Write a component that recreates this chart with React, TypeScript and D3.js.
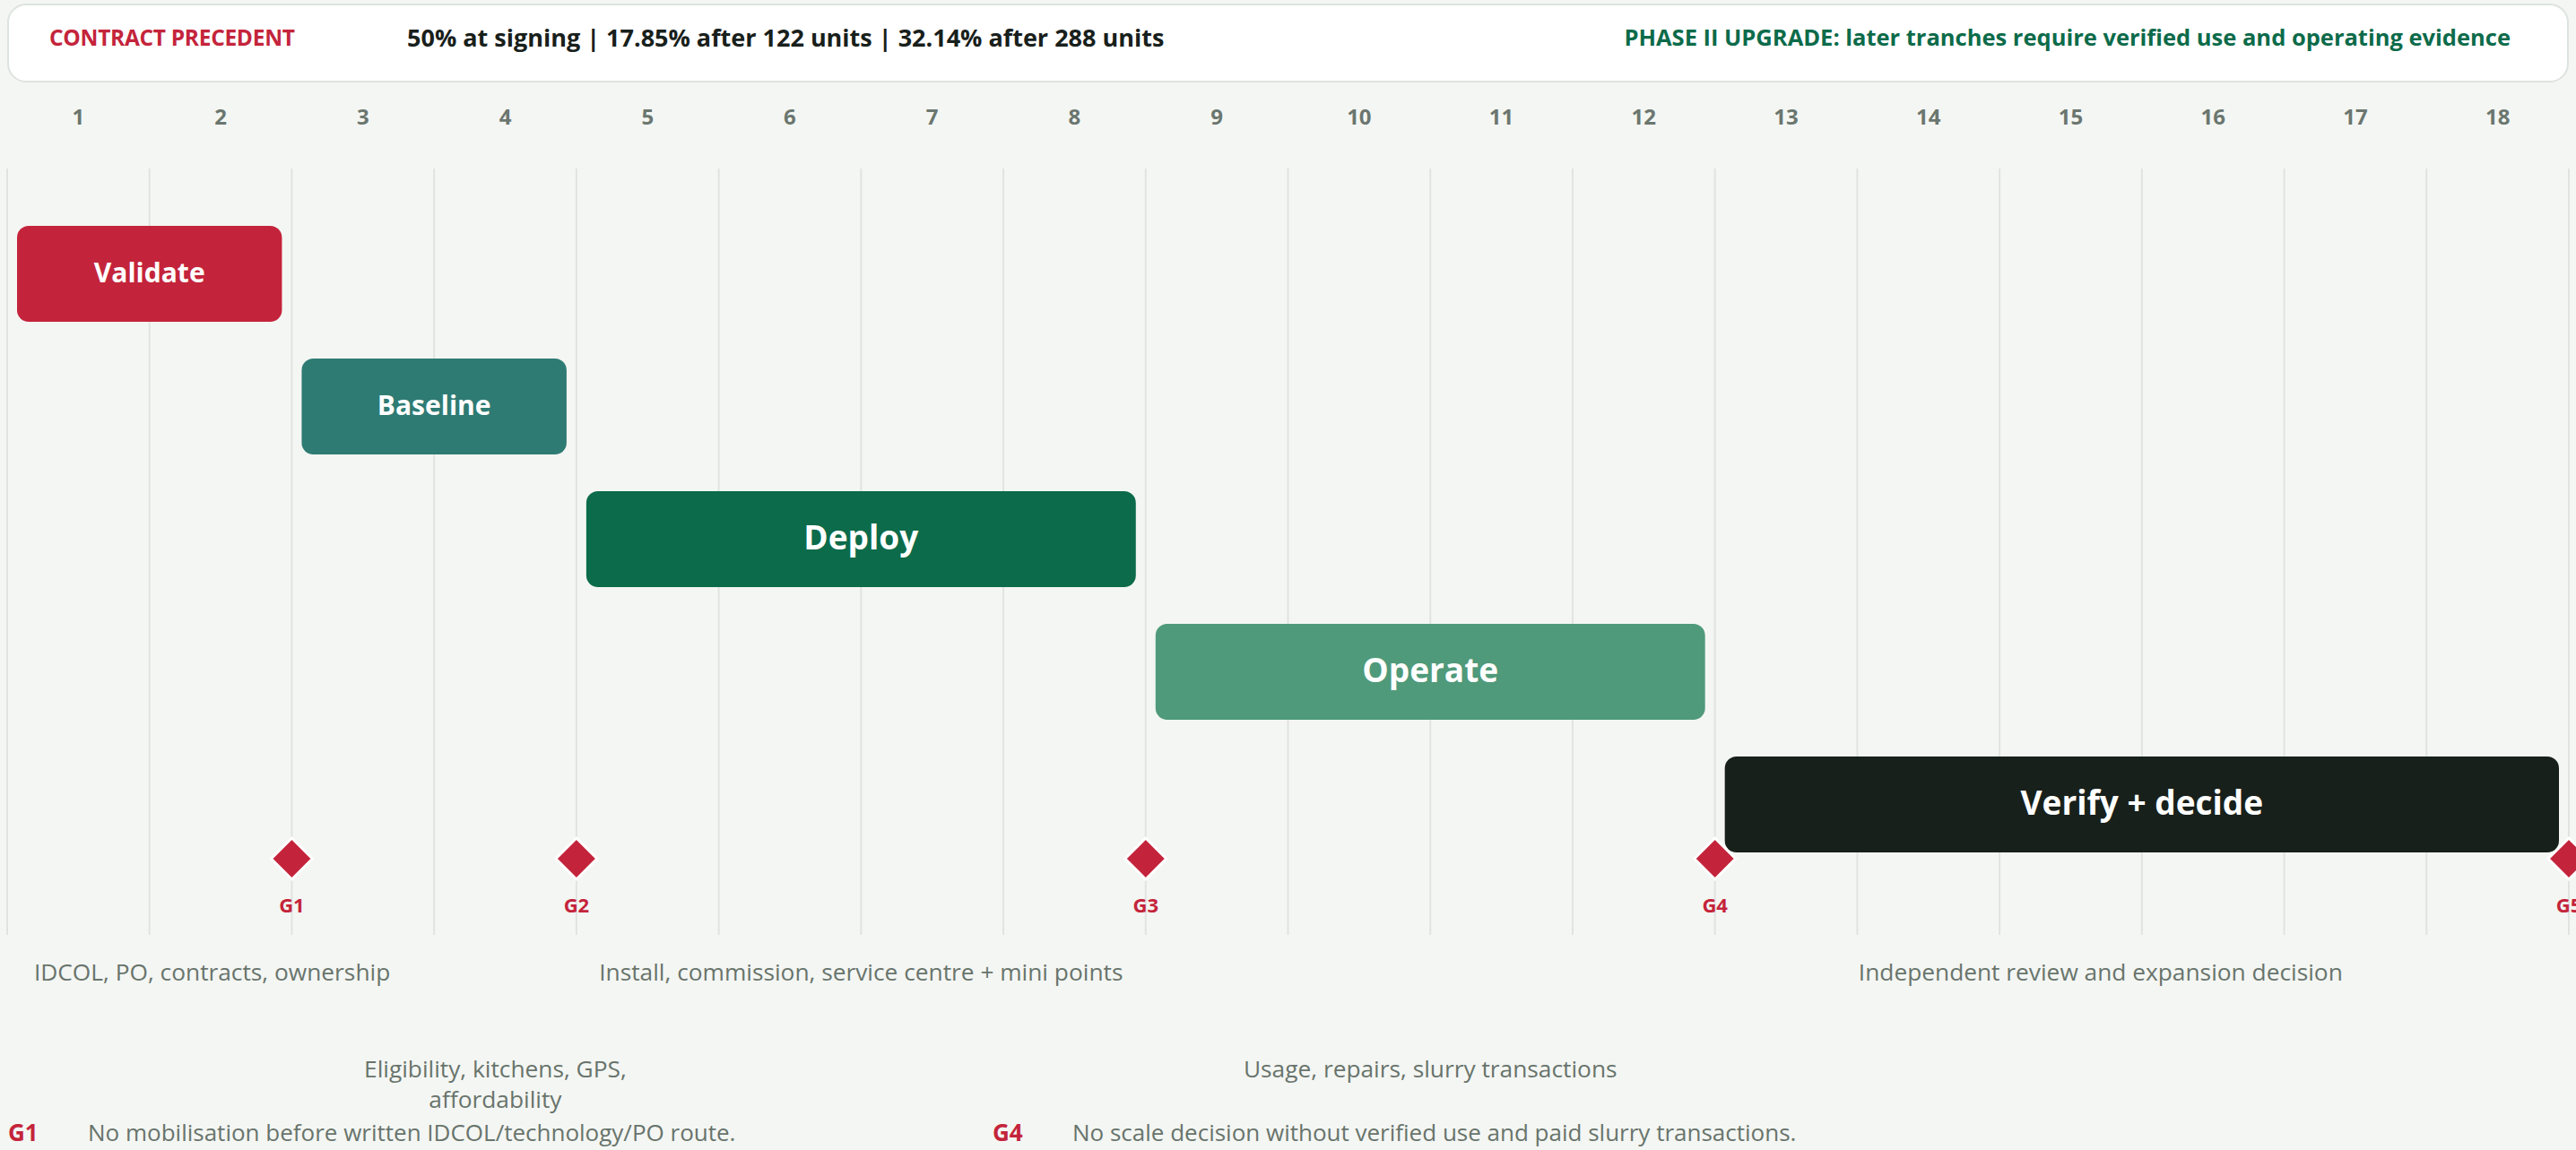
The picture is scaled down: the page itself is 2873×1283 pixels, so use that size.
import React, { useEffect, useRef } from 'react';
import * as d3 from 'd3';

const W = 2873;
const H = 1283;

// months on the top axis
const months = d3.range(1, 19);

// phases (start / end in months)
const phases = ['Validate', 'Baseline', 'Deploy', 'Operate', 'Verify + decide'];
const phaseStart = [0, 2, 4, 8, 12];
const phaseEnd = [2, 4, 8, 12, 18];
const phaseColors = ['#c4243b', '#2e7b74', '#0c6b4a', '#4f9a7a', '#18201b'];

// gates
const gates = ['G1', 'G2', 'G3', 'G4', 'G5'];
const gateMonth = [2, 4, 8, 12, 18];

// phase descriptions under the timeline
const descLines = [
  ['IDCOL, PO, contracts, ownership'],
  ['Eligibility, kitchens, GPS,', 'affordability'],
  ['Install, commission, service centre + mini points'],
  ['Usage, repairs, slurry transactions'],
  ['Independent review and expansion decision'],
];
const descRow = [0, 1, 0, 1, 0];
const descAt = [1.44, 3.43, 6, 10, 14.71];

// gate notes at the bottom
const noteGate = ['G1', 'G4'];
const noteText = [
  'No mobilisation before written IDCOL/technology/PO route.',
  'No scale decision without verified use and paid slurry transactions.',
];

const headerLeft = 'CONTRACT PRECEDENT';
const headerMid = '50% at signing | 17.85% after 122 units | 32.14% after 288 units';
const headerRight = 'PHASE II UPGRADE: later tranches require verified use and operating evidence';

const RED = '#c4243b';
const GREY = '#68746c';
const FONT = '"Open Sans", Roboto, sans-serif';

function Timeline() {
  const ref = useRef<SVGSVGElement>(null);

  useEffect(() => {
    const svg = d3.select(ref.current);
    svg.selectAll('*').remove();

    const x = d3.scaleLinear().domain([0, 18]).range([8, 2865]);
    const rowY = d3.scaleLinear().domain([0, 1]).range([252, 400]);
    const barH = 107;
    const pad = 11;

    svg.append('rect').attr('width', W).attr('height', H).attr('fill', '#f4f6f3');

    // header card
    svg.append('rect')
      .attr('x', 9).attr('y', 5).attr('width', 2855).attr('height', 86)
      .attr('rx', 20)
      .attr('fill', '#ffffff').attr('stroke', '#dde3de').attr('stroke-width', 2);
    svg.append('text')
      .attr('x', 55).attr('y', 51)
      .attr('fill', RED).attr('font-size', 24.5).attr('font-weight', 700)
      .attr('letter-spacing', -0.3)
      .text(headerLeft);
    svg.append('text')
      .attr('x', 454).attr('y', 52)
      .attr('fill', '#18201b').attr('font-size', 27).attr('font-weight', 700)
      .text(headerMid);
    svg.append('text')
      .attr('x', 2800).attr('y', 51)
      .attr('text-anchor', 'end')
      .attr('fill', '#0c6b4a').attr('font-size', 25.5).attr('font-weight', 700)
      .text(headerRight);

    // month labels
    svg.append('g').selectAll('text')
      .data(months).join('text')
      .attr('x', d => x(d - 0.5)).attr('y', 139)
      .attr('text-anchor', 'middle')
      .attr('fill', '#6b766f').attr('font-size', 24).attr('font-weight', 700)
      .text(d => d);

    // grid
    svg.append('g').selectAll('line')
      .data(d3.range(0, 19)).join('line')
      .attr('x1', d => x(d)).attr('x2', d => x(d))
      .attr('y1', 188).attr('y2', 1043)
      .attr('stroke', '#e0e4e0').attr('stroke-width', 2);

    // phase bars
    const bars = svg.append('g').selectAll('g')
      .data(phases).join('g');
    bars.append('rect')
      .attr('x', (d, i) => x(phaseStart[i]) + pad)
      .attr('y', (d, i) => rowY(i))
      .attr('width', (d, i) => x(phaseEnd[i]) - x(phaseStart[i]) - 2 * pad)
      .attr('height', barH)
      .attr('rx', 13)
      .attr('fill', (d, i) => phaseColors[i]);
    bars.append('text')
      .attr('x', (d, i) => (x(phaseStart[i]) + x(phaseEnd[i])) / 2)
      .attr('y', (d, i) => rowY(i) + barH / 2)
      .attr('dy', '0.3em')
      .attr('text-anchor', 'middle')
      .attr('fill', '#ffffff').attr('font-weight', 700)
      .attr('font-size', (d, i) => (phaseEnd[i] - phaseStart[i] > 2 ? 37 : 30))
      .text(d => d);

    // gates
    const gy = 958;
    const dd = 23;
    const gg = svg.append('g').selectAll('g')
      .data(gates).join('g');
    gg.append('path')
      .attr('d', (d, i) => {
        const cx = x(gateMonth[i]);
        return `M${cx},${gy - dd}L${cx + dd},${gy}L${cx},${gy + dd}L${cx - dd},${gy}Z`;
      })
      .attr('fill', RED).attr('stroke', '#ffffff').attr('stroke-width', 3);
    gg.append('text')
      .attr('x', (d, i) => x(gateMonth[i])).attr('y', 1018)
      .attr('text-anchor', 'middle')
      .attr('fill', RED).attr('font-size', 22).attr('font-weight', 700)
      .text(d => d);

    // descriptions
    const rowBase = [1094, 1202];
    const desc = svg.append('g').selectAll('text')
      .data(descLines).join('text')
      .attr('text-anchor', 'middle')
      .attr('fill', GREY).attr('font-size', 26.3);
    desc.each(function (lines, i) {
      d3.select(this).selectAll('tspan')
        .data(lines).join('tspan')
        .attr('x', x(descAt[i]))
        .attr('y', (l, j) => rowBase[descRow[i]] + j * 34)
        .text(l => l);
    });

    // notes
    const noteX = [9, 1107];
    const notes = svg.append('g').selectAll('g')
      .data(noteGate).join('g');
    notes.append('text')
      .attr('x', (d, i) => noteX[i]).attr('y', 1273)
      .attr('fill', RED).attr('font-size', 26).attr('font-weight', 700)
      .text(d => d);
    notes.append('text')
      .attr('x', (d, i) => noteX[i] + 89).attr('y', 1273)
      .attr('fill', GREY).attr('font-size', 26)
      .text((d, i) => noteText[i]);
  }, []);

  return (
    <svg
      ref={ref}
      width={W}
      height={H}
      style={{ position: 'fixed', top: 0, left: 0, display: 'block', fontFamily: FONT }}
    />
  );
}

export default function App() {
  return <Timeline />;
}
